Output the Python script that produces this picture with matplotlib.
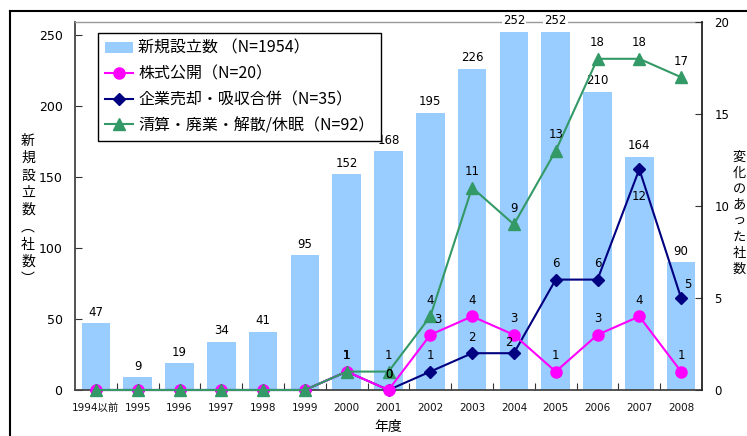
import matplotlib
matplotlib.use("Agg")
import matplotlib.pyplot as plt
from matplotlib.lines import Line2D
import numpy as np

plt.rcParams['font.family'] = ['DejaVu Sans', 'Noto Sans CJK JP']

# Company counts by fiscal year
years = ["1994以前", "1995", "1996", "1997", "1998", "1999", "2000", "2001",
         "2002", "2003", "2004", "2005", "2006", "2007", "2008"]
new_firms = [47, 9, 19, 34, 41, 95, 152, 168, 195, 226, 252, 252, 210, 164, 90]
ipo = [0, 0, 0, 0, 0, 0, 1, 0, 3, 4, 3, 1, 3, 4, 1]
mna = [0, 0, 0, 0, 0, 0, 1, 0, 1, 2, 2, 6, 6, 12, 5]
closure = [0, 0, 0, 0, 0, 0, 1, 1, 4, 11, 9, 13, 18, 18, 17]

legend_labels = ["新規設立数 （N=1954）", "株式公開（N=20）",
                 "企業売却・吸収合併（N=35）", "清算・廃業・解散/休眠（N=92）"]

W, H = 747, 436
fig = plt.figure(figsize=(W / 100, H / 100), dpi=100)
fig.patch.set_facecolor("white")

left, right, top, bottom = 75, 702, 22, 390
ax = fig.add_axes([left / W, 1 - bottom / H, (right - left) / W, (bottom - top) / H])
ax2 = ax.twinx()

x = np.arange(len(years))
BAR = "#99CCFF"
MAG = "#FF00FF"
NAVY = "#000080"
GREEN = "#339966"
DARK = "#333333"

bars = ax.bar(x, new_firms, width=0.68, color=BAR, zorder=1)
ax.set_xlim(-0.5, len(years) - 0.5)
ax.set_ylim(0, 259)
ax.set_yticks(np.arange(0, 251, 50))
ax2.set_ylim(0, 20)
ax2.set_yticks(np.arange(0, 21, 5))

ax.set_xticks(np.arange(0.5, len(years) - 1, 1.0))
ax.set_xticklabels([])
ax.set_xticks(x, minor=True)
ax.set_xticklabels(years, minor=True, fontsize=7.5)
ax.tick_params(axis="x", which="major", direction="in", length=5, color=DARK)
ax.tick_params(axis="x", which="minor", length=0, pad=9, colors="#111111")
ax.tick_params(axis="y", direction="in", length=5, pad=9, labelsize=9, color=DARK)
ax2.tick_params(axis="y", direction="in", length=5, pad=9, labelsize=8.5, color=DARK)

for sp in ("left", "bottom"):
    ax.spines[sp].set_color("#444444")
    ax.spines[sp].set_linewidth(1.3)
ax.spines["top"].set_color("#999999")
ax.spines["top"].set_linewidth(1.0)
ax.spines["right"].set_visible(False)
ax2.spines["top"].set_visible(False)
ax2.spines["left"].set_visible(False)
ax2.spines["bottom"].set_visible(False)
ax2.spines["right"].set_color("#222222")
ax2.spines["right"].set_linewidth(1.3)

# Bar value labels
for xi, v in zip(x, new_firms):
    ax.annotate(str(v), (xi, v), xytext=(0, 11), textcoords="offset pixels",
                ha="center", va="center", fontsize=8.5, zorder=5, clip_on=False,
                bbox=dict(boxstyle="square,pad=0.1", fc="white", ec="none"))

series = [
    ("mna", mna, NAVY, "D", 6.5),
    ("ipo", ipo, MAG, "o", 8),
    ("closure", closure, GREEN, "^", 8),
]
handles = [bars]
lines = {}
for name, vals, col, mk, ms in series:
    ln, = ax2.plot(x, vals, color=col, lw=1.5, marker=mk, markersize=ms,
                   markeredgecolor=col, markerfacecolor=col, zorder=3, clip_on=False)
    lines[name] = ln

# Value labels on the line series, starting from the first year with a change
start = next(i for i in range(len(years)) if ipo[i] or mna[i] or closure[i])
offsets = {
    ("mna", 13): (0, -27),
    ("mna", 14): (7, 13),
    ("mna", 10): (-5, 11),
    ("ipo", 8): (8, 15),
}
for name, vals, col, mk, ms in series:
    for i in range(start, len(years)):
        dx, dy = offsets.get((name, i), (0, 16))
        ax2.annotate(str(vals[i]), (x[i], vals[i]), xytext=(dx, dy),
                     textcoords="offset pixels", ha="center", va="center",
                     fontsize=8.5, zorder=6, annotation_clip=False)

handles += [lines["ipo"], lines["mna"], lines["closure"]]
leg = ax2.legend(handles, legend_labels, loc="upper left",
                 bbox_to_anchor=(98 / W, 1 - 33 / H), bbox_transform=fig.transFigure,
                 borderaxespad=0, frameon=True, fancybox=False, framealpha=1,
                 edgecolor="black", prop={"family": ["Noto Sans CJK JP"], "size": 11.5},
                 handlelength=1.8, handletextpad=0.3, borderpad=0.42,
                 labelspacing=0.55)
leg.get_frame().set_linewidth(1.0)
leg.set_zorder(10)

# Axis titles (vertical Japanese text)
cjk = ["Noto Sans CJK JP"]
fig.text(28 / W, 1 - 210 / H, "\n".join("新規設立数︵社数︶"), ha="center", va="center",
         fontsize=10, linespacing=1.3, family=cjk)
fig.text(739 / W, 1 - 213 / H, "\n".join("変化のあった社数"), ha="center", va="center",
         fontsize=9.5, linespacing=1.3, family=cjk)
fig.text(388 / W, 1 - 427 / H, "年度", ha="center", va="center", fontsize=10, family=cjk)

# Outer frame of the chart area
fig.add_artist(Line2D([10 / W, 1], [1 - 11 / H, 1 - 11 / H], transform=fig.transFigure,
                      color="black", lw=1.5))
fig.add_artist(Line2D([10 / W, 10 / W], [1 - 11 / H, 0], transform=fig.transFigure,
                      color="black", lw=1.5))

fig.savefig("out.png", dpi=100)
